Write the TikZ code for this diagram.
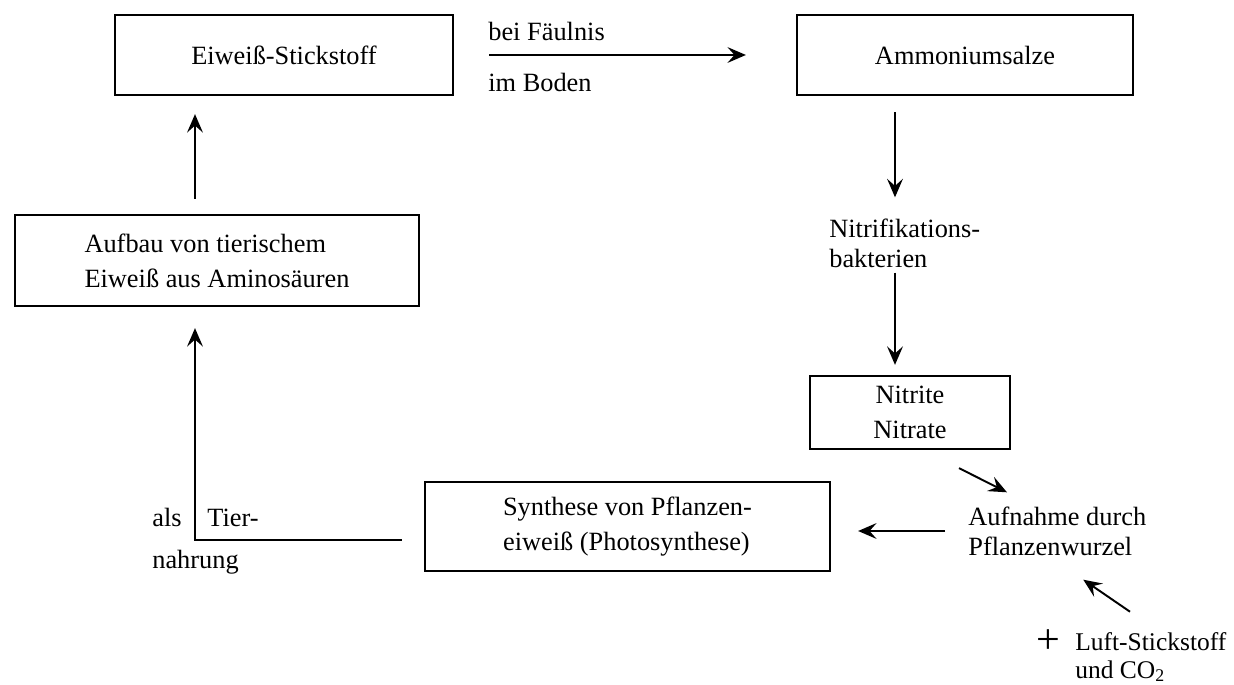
\documentclass[tikz,border=0pt]{standalone}
\usepackage{fontspec}
\setmainfont{Liberation Serif}
\usetikzlibrary{arrows.meta}

\begin{document}
\begin{tikzpicture}[x=0.02cm, y=-0.02cm,
  font=\fontsize{15}{19.8}\selectfont,
  box/.style={draw, line width=1.3pt, inner sep=0pt},
  lbl/.style={inner sep=0pt, align=left, font=\fontsize{15}{17}\selectfont},
  arr/.style={line width=1.1pt, -{Stealth[length=10.5pt,width=9pt,inset=4pt]}}]

\useasboundingbox (0,0) rectangle (1234,685);

%% boxes
\node[box, minimum width=6.76cm, minimum height=1.6cm] (eiweiss) at (284,55) {Eiweiß-Stickstoff};
\node[box, minimum width=6.72cm, minimum height=1.6cm] (ammon) at (965,55) {Ammoniumsalze};
\node[box, minimum width=8.08cm, minimum height=1.82cm, align=left] (aufbau) at (217,260.5)
  {Aufbau von tierischem\\Eiweiß aus Aminosäuren};
\node[box, minimum width=4cm, minimum height=1.46cm, align=center] (nitrit) at (910,412.5)
  {Nitrite\\Nitrate};
\node[box, minimum width=8.1cm, minimum height=1.78cm, align=left] (synth) at (627.5,526.5)
  {Synthese von Pflanzen-\\eiweiß (Photosynthese)};

%% free labels
\node[lbl, anchor=base west] (faeul) at (488,41) {bei Fäulnis};
\node[lbl, anchor=base west] (boden) at (488,92) {im Boden};
\node[lbl, anchor=west] (nitrif) at (829,243) {Nitrifikations-\\bakterien};
\node[lbl, anchor=west] (aufn) at (968,531) {Aufnahme durch\\Pflanzenwurzel};
\node[lbl, anchor=base west] (als) at (152,527) {als};
\node[lbl, anchor=base west] (tier) at (207,527) {Tier-};
\node[lbl, anchor=base west] (nahrung) at (152,568) {nahrung};
\node[lbl, anchor=center, font=\fontsize{24}{24}\selectfont] (plus) at (1048,642) {+};
\node[lbl, anchor=west, font=\fontsize{14.5}{16}\selectfont] (luft) at (1075,657)
  {Luft-Stickstoff\\und CO\textsubscript{2}};

%% arrow columns
\coordinate (colL) at (195,0);
\coordinate (colR) at (895,0);

%% connectors
\draw[arr, shorten <=0.7cm, shorten >=1.0cm] (eiweiss.east) -- (ammon.west);
\draw[arr, shorten <=0.32cm, shorten >=0.42cm] (colR |- ammon.south) -- (colR |- nitrif.north);
\draw[arr, shorten <=0.1cm, shorten >=0.2cm] (colR |- nitrif.south) -- (colR |- nitrit.north);
\draw[arr] ([shift={(49,18)}]nitrit.south) -- ([shift={(39,-14)}]aufn.north west);
\draw[arr, shorten <=0.46cm, shorten >=0.54cm] (aufn.west) -- (aufn.west -| synth.east);
\draw[arr] ([shift={(55,-20)}]luft.north west) -- ([shift={(26,24)}]aufn.south);
\draw[arr, shorten >=0.42cm] ([shift={(-22,13.5)}]synth.west) -| (colL |- aufbau.south);
\draw[arr, shorten <=0.3cm, shorten >=0.36cm] (colL |- aufbau.north) -- (colL |- eiweiss.south);

\end{tikzpicture}
\end{document}
